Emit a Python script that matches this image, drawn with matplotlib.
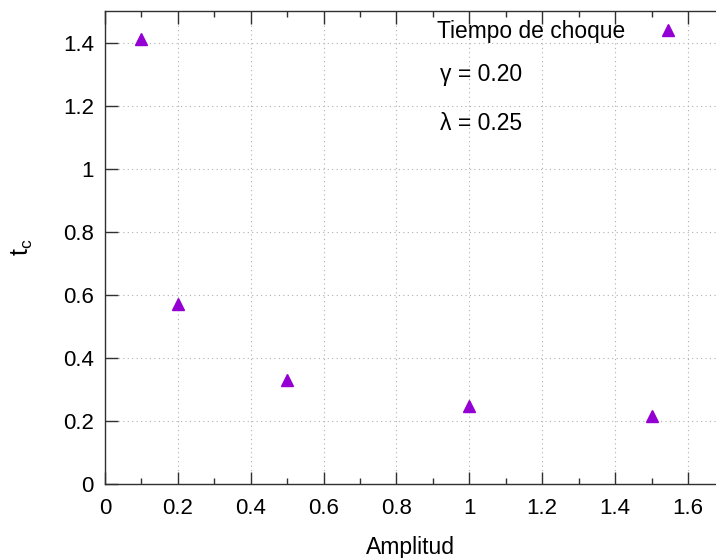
import numpy as np
import matplotlib.pyplot as plt
from matplotlib.ticker import MultipleLocator

plt.rcParams['font.family'] = ['Liberation Sans', 'DejaVu Sans']
plt.rcParams['mathtext.fontset'] = 'custom'
plt.rcParams['mathtext.rm'] = 'Liberation Sans'
plt.rcParams['mathtext.it'] = 'Liberation Sans'

# data
amplitud = [0.1, 0.2, 0.5, 1.0, 1.5]
t_choque = [1.41, 0.571, 0.330, 0.247, 0.217]
gamma = 0.20
lam = 0.25
xticks = [0, 0.2, 0.4, 0.6, 0.8, 1.0, 1.2, 1.4, 1.6]
xticklabels = ['0', '0.2', '0.4', '0.6', '0.8', '1', '1.2', '1.4', '1.6']
yticks = [0, 0.2, 0.4, 0.6, 0.8, 1.0, 1.2, 1.4]
yticklabels = ['0', '0.2', '0.4', '0.6', '0.8', '1', '1.2', '1.4']

fig = plt.figure(figsize=(7.16, 5.58), dpi=100)
ax = fig.add_axes([0.1466, 0.1326, 0.8534, 0.8477])

ax.plot(amplitud, t_choque, linestyle='none', marker='^', markersize=9,
        color='#9400d3', label='Tiempo de choque', zorder=3)

ax.set_xlim(0, 1.677)
ax.set_ylim(0, 1.5)
ax.set_xticks(xticks)
ax.set_xticklabels(xticklabels)
ax.xaxis.set_minor_locator(MultipleLocator(0.1))
ax.set_yticks(yticks)
ax.set_yticklabels(yticklabels)

ax.tick_params(which='both', direction='in', top=True, right=False,
               labelsize=16, color='#303030')
ax.tick_params(axis='x', which='major', length=9, width=1, pad=10)
ax.tick_params(axis='y', which='major', length=9, width=1, pad=8)
ax.tick_params(which='minor', length=4.5, width=1)
ax.spines['right'].set_visible(False)
for s in ['left', 'bottom', 'top']:
    ax.spines[s].set_linewidth(1)
    ax.spines[s].set_color('#303030')

ax.grid(True, which='major', color='#b0b0b0', linestyle=(0, (1, 3)), linewidth=0.8)

ax.set_xlabel('Amplitud', fontsize=16.5, labelpad=12)
ax.set_ylabel(r'$\mathregular{t_c}$', fontsize=18, labelpad=20)

ax.legend(loc='upper right', bbox_to_anchor=(0.964, 1.0), frameon=False,
          markerfirst=False, fontsize=16.4, handlelength=1.5, handletextpad=1.14,
          borderaxespad=0.0, borderpad=0.4)
ax.text(0.548, 0.865, '\u03b3 = %.2f' % gamma, transform=ax.transAxes,
        fontsize=16.5, va='center', ha='left')
ax.text(0.548, 0.763, '\u03bb = %.2f' % lam, transform=ax.transAxes,
        fontsize=16.5, va='center', ha='left')

fig.savefig('out.png', dpi=100)
